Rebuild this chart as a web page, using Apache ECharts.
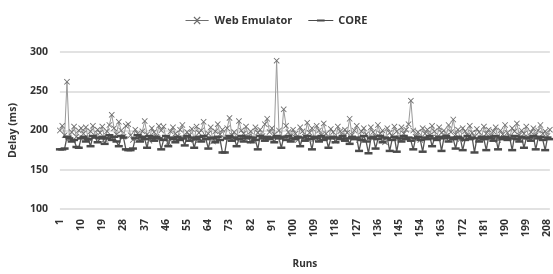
<!DOCTYPE html>
<html><head><meta charset="utf-8">
<script src="https://cdn.jsdelivr.net/npm/echarts@6/dist/echarts.min.js"></script>
<style>html,body{margin:0;padding:0;background:#fff}#c{width:553px;height:274px}</style>
</head><body><div id="c"></div>
<script>
const runs = [];
for (let i = 1; i <= 209; i++) runs.push(String(i));
const seriesNames = ['Web Emulator', 'CORE'];
const webEmulator = [
200,206,194,262,190,198,205,192,200,203,
196,204,190,199,206,193,201,197,205,189,
199,207,220,203,195,211,200,192,206,208,
194,188,201,196,190,199,212,195,187,203,
198,192,206,200,205,190,185,199,204,196,
193,201,207,190,198,194,202,188,205,197,
200,211,193,196,204,186,199,208,195,201,
190,203,216,194,198,189,212,200,196,205,
192,199,187,204,197,201,193,208,215,198,
203,195,289,200,190,227,206,198,193,201,
196,188,204,199,192,210,197,203,189,206,
200,194,209,196,190,202,198,187,205,199,
193,201,197,215,194,200,206,188,199,203,
195,190,204,198,192,207,196,200,185,203,
197,193,205,199,190,204,196,201,208,238,
200,192,198,188,203,196,201,194,206,199,
191,204,197,200,193,207,198,214,195,201,
189,203,199,194,206,197,192,202,198,190,
205,196,201,193,199,204,188,200,195,207,
197,192,203,199,209,194,200,196,205,191,
198,203,194,200,207,196,199,193,201
];
const core = [
176,176,177,192,190,186,188,179,178,190,
192,186,189,180,193,191,185,190,192,183,
190,194,188,192,186,180,193,191,176,175,
175,177,190,194,186,192,189,178,193,190,
187,192,190,176,188,193,180,191,189,185,
192,188,190,181,193,187,191,178,189,192,
186,193,189,177,191,190,185,192,188,172,
172,190,193,187,191,180,189,193,186,190,
192,185,191,188,176,193,190,187,192,189,
191,185,193,190,178,192,188,193,186,190,
189,192,180,191,187,193,189,176,192,190,
186,193,188,191,178,190,192,185,191,189,
193,187,190,183,192,189,191,174,188,193,
186,171,190,192,177,189,193,185,191,190,
174,188,192,173,190,186,193,189,191,187,
176,190,192,188,173,191,189,193,180,190,
188,192,174,190,193,186,191,189,177,192,
190,175,188,193,189,191,172,190,186,192,
189,175,192,190,187,193,176,191,189,192,
188,190,175,193,189,186,192,178,190,191,
187,193,176,190,192,188,175,191,189
];
const yTicks = [100, 150, 200, 250, 300];

const FONT = 'Open Sans';
const xSym = 'path://M0,1L1,0L5,4L9,0L10,1L6,5L10,9L9,10L5,6L1,10L0,9L4,5Z';
const coreIcon = 'path://M0,4.5H26V5.5H0Z M9,4H17V6H9Z';
const webIcon = 'path://M0,3.5H26V4.5H0Z M9,0.5L10,-0.5L13,2.5L16,-0.5L17,0.5L14,3.5L14,4.5L17,7.5L16,8.5L13,5.5L10,8.5L9,7.5L12,4.5L12,3.5Z';
const chart = echarts.init(document.getElementById('c'), null, {renderer: 'canvas'});
chart.setOption({
  animation: false,
  backgroundColor: '#fff',
  textStyle: {fontFamily: FONT},
  legend: {
    top: 10, left: 'center', itemWidth: 25, itemHeight: 8, itemGap: 16,
    textStyle: {fontSize: 11, color: '#333', fontWeight: 'bold', fontFamily: FONT},
    data: [
      {name: seriesNames[0], icon: webIcon},
      {name: seriesNames[1], icon: coreIcon}
    ]
  },
  grid: {left: 58, right: 3, top: 52, bottom: 57},
  xAxis: {
    type: 'category', data: runs, boundaryGap: false,
    name: 'Runs', nameLocation: 'middle', nameGap: 50,
    nameTextStyle: {fontSize: 10, color: '#333', fontWeight: 'bold', fontFamily: FONT},
    axisLine: {show: false}, axisTick: {show: false},
    axisLabel: {interval: 8, rotate: 90, fontSize: 10.5, color: '#333', fontWeight: 'bold', margin: 10, fontFamily: FONT}
  },
  yAxis: {
    type: 'value', min: yTicks[0], max: yTicks[yTicks.length - 1], interval: 50,
    name: 'Delay (ms)', nameLocation: 'middle', nameGap: 40,
    nameTextStyle: {fontSize: 10.5, color: '#333', fontWeight: 'bold', fontFamily: FONT},
    axisLine: {show: false}, axisTick: {show: false},
    axisLabel: {fontSize: 10.5, color: '#333', fontWeight: 'bold', margin: 12, fontFamily: FONT},
    splitLine: {lineStyle: {color: '#d9d9d9', width: 1.5}}
  },
  series: [
    {
      name: seriesNames[0], type: 'line', data: webEmulator,
      symbol: xSym, symbolSize: 6, showAllSymbol: true,
      lineStyle: {color: '#9a9a9a', width: 1},
      itemStyle: {color: '#6e6e6e'}
    },
    {
      name: seriesNames[1], type: 'line', data: core,
      symbol: 'rect', symbolSize: [8, 2.5], showAllSymbol: true,
      lineStyle: {color: '#555', width: 1.3},
      itemStyle: {color: '#4a4a4a'}
    }
  ]
});
</script></body></html>
